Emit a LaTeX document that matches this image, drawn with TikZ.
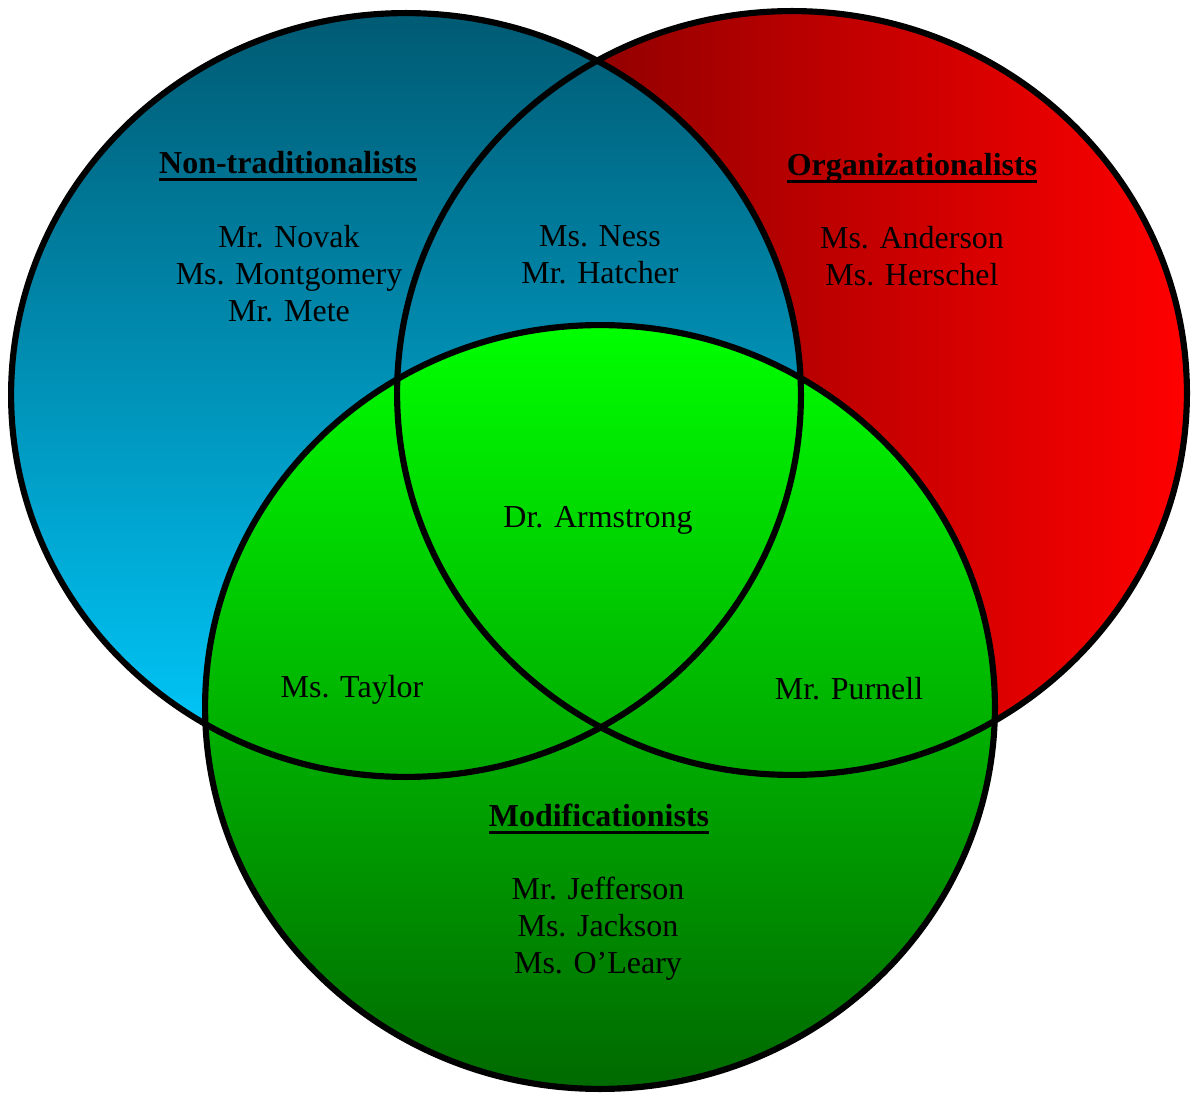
\documentclass[tikz,border=0pt]{standalone}
\usepackage{fontspec}
\setmainfont{Liberation Serif}
\usetikzlibrary{positioning}

\definecolor{ntTop}{RGB}{0,90,115}
\definecolor{ntBottom}{RGB}{0,204,255}
\definecolor{orgLeft}{RGB}{110,0,0}
\definecolor{orgMid}{RGB}{200,0,0}
\definecolor{orgRight}{RGB}{255,0,0}
\definecolor{modTop}{RGB}{0,255,0}
\definecolor{modBottom}{RGB}{0,105,0}

% heading text with a heavy underline
\newcommand{\ulhead}[1]{\begingroup\setbox0=\hbox{#1}\rlap{\copy0}\rule[-0.22em]{\wd0}{1.7pt}\endgroup}

\begin{document}
\begin{tikzpicture}[x=0.02cm, y=-0.02cm,
		setshape/.style={x radius=7.9cm, y radius=7.64cm},
		rim/.style={draw=black, line width=3.5pt},
		names/.style={font=\fontsize{18.2}{21}\selectfont, align=center, inner sep=0pt},
		heading/.style={names, font=\fontsize{18.2}{21}\selectfont\bfseries}]
	\useasboundingbox (0,0) rectangle (1192,1097);
	% centres of the three sets
	\coordinate (ntc) at (406,395);
	\coordinate (orgc) at (792,393);
	\coordinate (modc) at (600,707);
	% fills: red first, blue over it, green on top
	\path[left color=orgLeft, middle color=orgMid, right color=orgRight] (orgc) ellipse [setshape];
	\path[top color=ntTop, bottom color=ntBottom] (ntc) ellipse [setshape];
	\path[top color=modTop, bottom color=modBottom] (modc) ellipse [setshape];
	% outlines over everything
	\foreach \c in {orgc, ntc, modc}
		\draw[rim] (\c) ellipse [setshape];
	% labels
	\node[heading] (ntHead) at (288,166) {\ulhead{Non-traditionalists}};
	\node[heading] (orgHead) at (912,168) {\ulhead{Organizationalists}};
	\node[heading] (modHead) at (599,819) {\ulhead{Modificationists}};
	\node[names] (ntNames) at (289,274) {Mr. Novak\\Ms. Montgomery\\Mr. Mete};
	\node[names] (orgNames) at (912,256) {Ms. Anderson\\Ms. Herschel};
	\node[names] (ntOrg) at (600,255) {Ms. Ness\\Mr. Hatcher};
	\node[names] (allThree) at (598,520) {Dr. Armstrong};
	\node[names] (ntMod) at (352,690) {Ms. Taylor};
	\node[names] (orgMod) at (849,689) {Mr. Purnell};
	\node[names] (modNames) at (598,929) {Mr. Jefferson\\Ms. Jackson\\Ms. O’Leary};
\end{tikzpicture}
\end{document}
